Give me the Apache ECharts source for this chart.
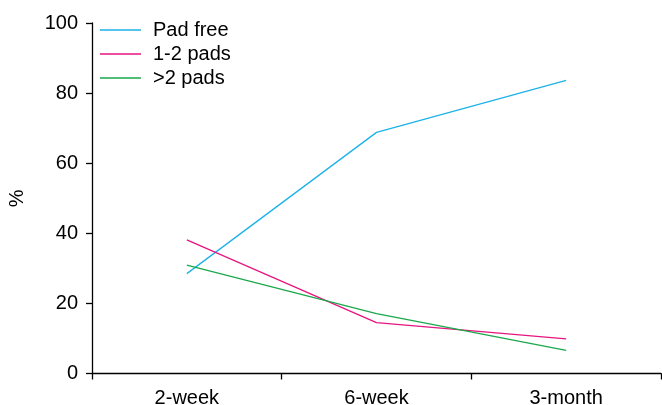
<!DOCTYPE html>
<html><head><meta charset="utf-8">
<script src="https://cdn.jsdelivr.net/npm/echarts@6/dist/echarts.min.js"></script>
<style>html,body{margin:0;padding:0;background:#fff}#c{width:662px;height:405px}</style>
</head><body><div id="c"></div>
<script>
var categories = ['2-week', '6-week', '3-month'];
var padFree = [28.5, 68.8, 83.6];
var pads12 = [38.1, 14.5, 9.9];
var padsOver2 = [30.9, 17.1, 6.6];
var yTicks = [0, 20, 40, 60, 80, 100];

var font = 'Liberation Sans, Arial, sans-serif';
var chart = echarts.init(document.getElementById('c'), null, {renderer: 'canvas'});
function ser(name, data, color) {
  return {name: name, type: 'line', data: data, symbol: 'none', showSymbol: false, smooth: false,
    lineStyle: {color: color, width: 1.3}, itemStyle: {color: color}};
}
chart.setOption({
  animation: false,
  grid: {left: 92, right: 1, top: 23, bottom: 31.5, containLabel: false, outerBoundsMode: 'none'},
  legend: {orient: 'vertical', left: 100, top: 20, padding: 0, itemWidth: 41, itemHeight: 1.5, itemGap: 4,
    icon: 'rect',
    textStyle: {fontFamily: font, fontSize: 20, color: '#000', lineHeight: 20, padding: [0, 0, 0, 7]},
    data: ['Pad free', '1-2 pads', '>2 pads']},
  xAxis: {type: 'category', data: categories, boundaryGap: true,
    axisLine: {lineStyle: {color: '#000', width: 1.3}},
    axisTick: {show: true, length: 6, alignWithLabel: false, lineStyle: {color: '#000', width: 1.3}},
    axisLabel: {fontFamily: font, fontSize: 20, color: '#000', margin: 15}},
  yAxis: {type: 'value', min: yTicks[0], max: yTicks[yTicks.length - 1], interval: 20,
    name: '%', nameLocation: 'middle', nameGap: 65, nameRotate: 90,
    nameTextStyle: {fontFamily: font, fontSize: 20, color: '#000'},
    axisLine: {show: true, lineStyle: {color: '#000', width: 1.3}},
    axisTick: {show: true, length: 6, lineStyle: {color: '#000', width: 1.3}},
    splitLine: {show: false},
    axisLabel: {fontFamily: font, fontSize: 20, color: '#000', margin: 14}},
  series: [ser('Pad free', padFree, '#1db2ea'), ser('1-2 pads', pads12, '#e6157f'), ser('>2 pads', padsOver2, '#1aa84b')]
});
</script></body></html>
